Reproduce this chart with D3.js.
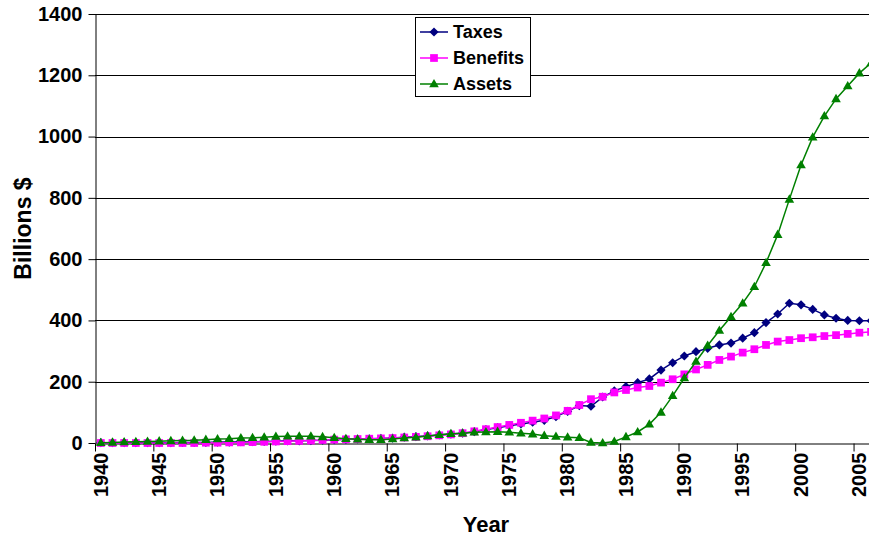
<!DOCTYPE html>
<html>
<head>
<meta charset="utf-8">
<script src="https://cdn.jsdelivr.net/npm/d3@7"></script>
<style>
  body { margin: 0; background: #fff; }
  svg { display: block; font-family: "Liberation Sans", Arial, sans-serif; font-weight: bold; }
</style>
</head>
<body>
<div id="main"></div>
<script>
const years = [
  1940, 1941, 1942, 1943, 1944, 1945, 1946, 1947, 1948, 1949,
  1950, 1951, 1952, 1953, 1954, 1955, 1956, 1957, 1958, 1959,
  1960, 1961, 1962, 1963, 1964, 1965, 1966, 1967, 1968, 1969,
  1970, 1971, 1972, 1973, 1974, 1975, 1976, 1977, 1978, 1979,
  1980, 1981, 1982, 1983, 1984, 1985, 1986, 1987, 1988, 1989,
  1990, 1991, 1992, 1993, 1994, 1995, 1996, 1997, 1998, 1999,
  2000, 2001, 2002, 2003, 2004, 2005, 2006
];

const taxes = [
  1, 1, 1, 1, 1, 1, 1, 2, 2, 2,
  3, 3, 4, 4, 5, 6, 7, 7, 8, 9,
  11, 12, 13, 14, 15, 16, 19, 21, 23, 26,
  29, 32, 37, 44, 50, 56, 62, 68, 74, 86,
  103, 122, 120, 150, 170, 184, 197, 209, 238, 262,
  284, 298, 309, 320, 326, 342, 360, 393, 421, 456,
  451, 436, 418, 407, 400, 399, 399
];

const benefits = [
  0, 0, 0, 0, 0, 0, 0, 0, 0, 1,
  1, 2, 2, 3, 4, 5, 6, 7, 8, 10,
  11, 12, 13, 14, 15, 16, 18, 20, 22, 25,
  28, 32, 38, 45, 52, 59, 66, 73, 80, 90,
  105, 124, 143, 151, 165, 173, 181, 186, 197, 208,
  224, 240, 255, 271, 282, 295, 306, 320, 331, 336,
  342, 345, 349, 352, 356, 360, 363
];

const assets = [
  1, 2, 3, 4, 5, 6, 7, 8, 9, 11,
  13, 14, 16, 17, 19, 21, 22, 22, 22, 20,
  17, 14, 12, 11, 11, 13, 16, 19, 23, 27,
  30, 32, 35, 36, 37, 35, 32, 29, 24, 21,
  19, 17, 2, 0, 5, 20, 36, 61, 100, 154,
  212, 266, 318, 367, 412, 456, 510, 588, 680, 795,
  907, 998, 1067, 1123, 1165, 1207, 1240
];

const seriesNames = ['Taxes', 'Benefits', 'Assets'];
const xTickLabels = [1940, 1945, 1950, 1955, 1960, 1965, 1970, 1975, 1980, 1985, 1990, 1995, 2000, 2005];
const yTicks = [0, 200, 400, 600, 800, 1000, 1200, 1400];

class TrustFundChart {
  constructor(config) {
    this.config = config;
    this.svg = null;
    this.plot = null;
    this.xScale = null;
    this.yScale = null;

    this.series = [
      {name: seriesNames[0], values: taxes, color: '#000080', marker: 'diamond'},
      {name: seriesNames[1], values: benefits, color: '#FF00FF', marker: 'square'},
      {name: seriesNames[2], values: assets, color: '#008000', marker: 'triangle'}
    ];

    this.createSvg();
  }

  createSvg() {
    this.svg = d3.select(this.config.div)
      .append('svg')
      .attr('width', this.config.width)
      .attr('height', this.config.height);
    this.plot = this.svg.append('g');
  }

  createScales() {
    let c = this.config;
    this.xScale = d3.scaleBand().domain(years).range([c.left, c.left + years.length * c.band]).padding(0);
    this.yScale = d3.scaleLinear().domain([0, 1400]).range([c.bottom, c.top]);
  }

  markerPath(type) {
    if (type === 'diamond') return d3.symbol(d3.symbolSquare, 42)();
    if (type === 'square') return d3.symbol(d3.symbolSquare, 60)();
    return d3.symbol(d3.symbolTriangle, 40)();
  }

  markerTransform(type, x, y) {
    if (type === 'diamond') return `translate(${x},${y}) rotate(45)`;
    if (type === 'triangle') return `translate(${x},${y + 0.5})`;
    return `translate(${x},${y})`;
  }

  styleText(sel, size) {
    sel.attr('font-size', size)
      .attr('font-family', '"Liberation Sans", Arial, sans-serif')
      .attr('font-weight', 'bold')
      .attr('fill', '#000');
  }

  renderGrid() {
    let right = this.config.left + years.length * this.config.band;
    this.plot.append('g')
      .selectAll('line')
      .data(yTicks.filter(d => d > 0))
      .join('line')
      .attr('x1', this.config.left)
      .attr('x2', right)
      .attr('y1', d => Math.round(this.yScale(d)) + 0.5)
      .attr('y2', d => Math.round(this.yScale(d)) + 0.5)
      .attr('stroke', '#000')
      .attr('stroke-width', 1);
  }

  renderAxes() {
    let bw = this.xScale.bandwidth();

    let xAxis = this.plot.append('g')
      .attr('transform', `translate(0,${this.config.bottom + 0.5})`)
      .call(d3.axisBottom(this.xScale).tickValues(xTickLabels).tickSize(8).tickSizeOuter(0));
    xAxis.select('.domain').attr('stroke', '#000');
    xAxis.selectAll('.tick line')
      .attr('x1', -bw / 2 + 0.5).attr('x2', -bw / 2 + 0.5).attr('stroke', '#000');
    xAxis.selectAll('.tick text')
      .attr('transform', 'rotate(-90)')
      .attr('text-anchor', 'end')
      .attr('x', -9)
      .attr('y', 0)
      .attr('dy', '0.34em')
      .call(s => this.styleText(s, 20));

    let yAxis = this.plot.append('g')
      .attr('transform', `translate(${this.config.left + 0.5},0)`)
      .call(d3.axisLeft(this.yScale).tickValues(yTicks).tickFormat(d3.format('d'))
        .tickSize(7).tickPadding(6).tickSizeOuter(0));
    yAxis.select('.domain').attr('stroke', '#000');
    yAxis.selectAll('.tick line').attr('stroke', '#000');
    yAxis.selectAll('.tick text').call(s => this.styleText(s, 20));

    this.svg.append('text')
      .attr('transform', `translate(31,${(this.config.top + this.config.bottom) / 2}) rotate(-90)`)
      .attr('text-anchor', 'middle')
      .attr('font-size', 23)
      .text('Billions $');

    this.svg.append('text')
      .attr('x', this.config.left + years.length * this.config.band / 2)
      .attr('y', 532)
      .attr('text-anchor', 'middle')
      .attr('font-size', 22)
      .text('Year');
  }

  renderSeries() {
    let bw = this.xScale.bandwidth();
    let line = d3.line()
      .x((d, i) => this.xScale(years[i]) + bw / 2)
      .y(d => this.yScale(d));

    this.series.forEach(s => {
      let g = this.plot.append('g');
      g.append('path')
        .attr('d', line(s.values))
        .attr('fill', 'none')
        .attr('stroke', s.color)
        .attr('stroke-width', 1.5);
      g.selectAll('path.mk')
        .data(s.values)
        .join('path')
        .attr('class', 'mk')
        .attr('d', this.markerPath(s.marker))
        .attr('transform', (d, i) => this.markerTransform(s.marker, this.xScale(years[i]) + bw / 2, this.yScale(d)))
        .attr('fill', s.color);
    });
  }

  renderLegend() {
    let lg = this.svg.append('g');
    lg.append('rect')
      .attr('x', 415.5).attr('y', 17.5)
      .attr('width', 115).attr('height', 79)
      .attr('fill', '#fff')
      .attr('stroke', '#000');

    let rows = lg.selectAll('g.row')
      .data(this.series)
      .join('g')
      .attr('class', 'row')
      .attr('transform', (d, i) => `translate(0,${32 + i * 26})`);

    rows.append('line')
      .attr('x1', 420).attr('x2', 448)
      .attr('stroke', d => d.color)
      .attr('stroke-width', 1.5);
    rows.append('path')
      .attr('d', d => this.markerPath(d.marker))
      .attr('transform', d => this.markerTransform(d.marker, 434, 0))
      .attr('fill', d => d.color);
    rows.append('text')
      .attr('x', 453)
      .attr('dy', '0.36em')
      .attr('font-size', 18)
      .text(d => d.name);
  }
}

function main() {
  let c = {div: '#main', width: 869, height: 538, left: 95, top: 14, bottom: 443, band: 11.67};
  let chart = new TrustFundChart(c);
  chart.createScales();
  chart.renderGrid();
  chart.renderAxes();
  chart.renderSeries();
  chart.renderLegend();
}

main();
</script>
</body>
</html>
